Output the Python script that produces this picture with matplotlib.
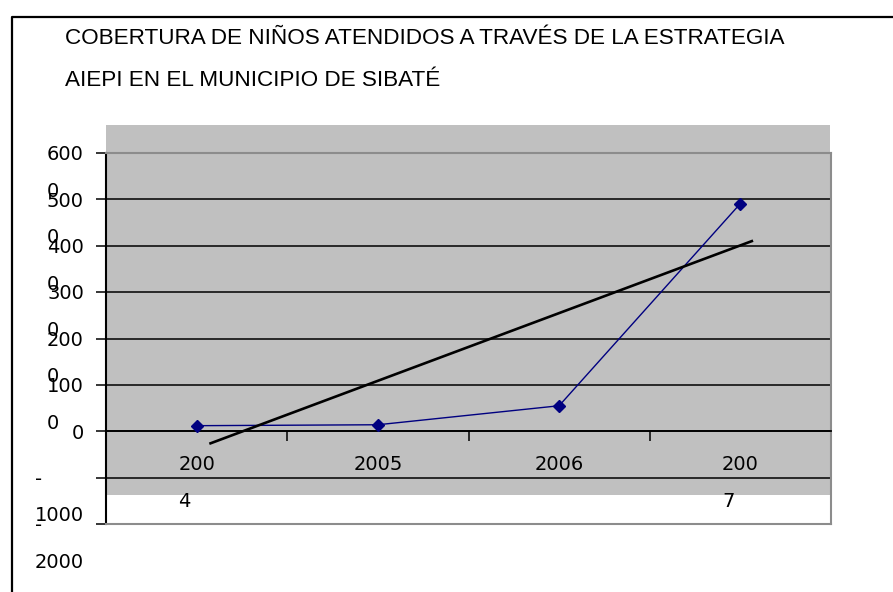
import matplotlib
matplotlib.use("Agg")
import matplotlib.pyplot as plt
import matplotlib.transforms as mtransforms
from matplotlib.lines import Line2D
from matplotlib.patches import Rectangle

# chart data
title_lines = ["COBERTURA DE NIÑOS ATENDIDOS A TRAVÉS DE LA ESTRATEGIA",
               "AIEPI EN EL MUNICIPIO DE SIBATÉ"]
years = ["200\n4", "2005", "2006", "200\n7"]
ninos = [12, 14, 55, 491]
trend_x = [1.07, 4.07]
trend_y = [-27, 411]
ytick_values = [600, 500, 400, 300, 200, 100, 0, -100, -200]
ytick_labels = ["600\n0", "500\n0", "400\n0", "300\n0", "200\n0", "100\n0",
                "0", "-\n1000", "-\n2000"]

W, H = 893, 592
fig = plt.figure(figsize=(W / 100, H / 100), dpi=100)


def px(x0, y0, x1, y1):
    # pixel box (top-left origin) -> figure fraction rect
    return [x0 / W, 1 - y1 / H, (x1 - x0) / W, (y1 - y0) / H]


# grey background of the plot area (drawn behind everything)
fig.add_artist(Rectangle((106 / W, 1 - 495 / H), (830 - 106) / W, (495 - 125) / H,
                         transform=fig.transFigure, facecolor="#c0c0c0",
                         edgecolor="none", zorder=-1))

# outer chart border
fig.add_artist(Line2D([12 / W, 12 / W, 1.01], [-0.01, 1 - 17 / H, 1 - 17 / H],
                      transform=fig.transFigure, color="black", lw=1.6))

for i, line in enumerate(title_lines):
    fig.text(65 / W, 1 - (38.5 + 42 * i) / H, line, fontsize=16.2,
             family=["Liberation Sans", "DejaVu Sans"], va="center", ha="left")

ax = fig.add_axes(px(106, 153, 831, 524))
ax.patch.set_visible(False)
x = list(range(1, len(years) + 1))

ax.plot(x, ninos, color="#000080", lw=1, marker="D", ms=6, zorder=4)
ax.plot(trend_x, trend_y, color="black", lw=1.9, zorder=5, solid_capstyle="butt")

ax.set_xlim(0.5, 4.5)
ax.set_ylim(-200, 600)

ax.set_yticks(ytick_values)
ax.set_yticklabels([])
ax.yaxis.grid(True, color="black", lw=1.1)
ax.tick_params(axis="y", direction="out", length=7, width=1.1, color="black")
ax.axhline(-200, color="#8c8c8c", lw=1.5, zorder=3, clip_on=False)

# category ticks between years
ax.set_xticks([1.5, 2.5, 3.5, 4.5])
ax.set_xticklabels([])
ax.tick_params(axis="x", which="major", direction="out", length=7, width=1.1)

ax.spines["bottom"].set_position(("data", 0))
ax.spines["bottom"].set_linewidth(1.3)
ax.spines["left"].set_linewidth(1.5)
for side in ["top", "right"]:
    ax.spines[side].set_color("#8c8c8c")
    ax.spines[side].set_linewidth(1.5)

# wrapped year labels under the zero line
down = mtransforms.ScaledTranslation(0, -24 / 100, fig.dpi_scale_trans)
for xi, s in zip(x, years):
    ax.text(xi, 0, s, transform=ax.transData + down, ha="center", va="top",
            multialignment="left", linespacing=2.2, fontsize=14,
            family="DejaVu Sans", clip_on=False)

# wrapped value labels, first line centred on its tick
shift = mtransforms.ScaledTranslation(0, 7.7 / 100, fig.dpi_scale_trans)
for v, s in zip(ytick_values, ytick_labels):
    ax.text((84 - 106) / 725, v, s, transform=ax.get_yaxis_transform() + shift,
            ha="right", va="top", multialignment="left", linespacing=2.17,
            fontsize=14, family="DejaVu Sans", clip_on=False)

fig.savefig("out.png", dpi=100)
